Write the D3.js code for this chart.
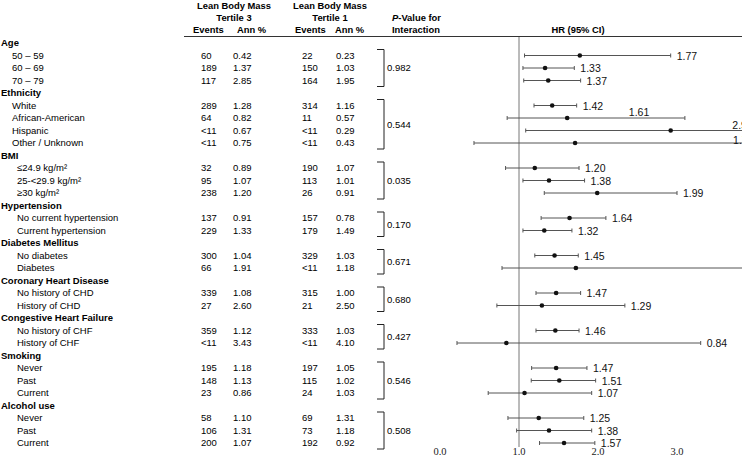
<!DOCTYPE html>
<html><head><meta charset="utf-8">
<script src="https://cdn.jsdelivr.net/npm/d3@7"></script>
<style>body{margin:0;background:#fff} svg{display:block}</style>
</head><body><svg id="c" width="742" height="456"></svg>
<script>
const groups = ["Age","Ethnicity","BMI","Hypertension","Diabetes Mellitus","Coronary Heart Disease","Congestive Heart Failure","Smoking","Alcohol use"];
const subgroups = [
  ["50 – 59","60 – 69","70 – 79"],
  ["White","African-American","Hispanic","Other / Unknown"],
  ["≤24.9 kg/m²","25-<29.9 kg/m²","≥30 kg/m²"],
  ["No current hypertension","Current hypertension"],
  ["No diabetes","Diabetes"],
  ["No history of CHD","History of CHD"],
  ["No history of CHF","History of CHF"],
  ["Never","Past","Current"],
  ["Never","Past","Current"]
];
const pValues = ["0.982","0.544","0.035","0.170","0.671","0.680","0.427","0.546","0.508"];
const t3Events = ["60","189","117","289","64","<11","<11","32","95","238","137","229","300","66","339","27","359","<11","195","148","23","58","106","200"];
const t3Ann = ["0.42","1.37","2.85","1.28","0.82","0.67","0.75","0.89","1.07","1.20","0.91","1.33","1.04","1.91","1.08","2.60","1.12","3.43","1.18","1.13","0.86","1.10","1.31","1.07"];
const t1Events = ["22","150","164","314","11","<11","<11","190","113","26","157","179","329","<11","315","21","333","<11","197","115","24","69","73","192"];
const t1Ann = ["0.23","1.03","1.95","1.16","0.57","0.29","0.43","1.07","1.01","0.91","0.78","1.49","1.03","1.18","1.00","2.50","1.03","4.10","1.05","1.02","1.03","1.31","1.18","0.92"];
const hr = [1.77,1.33,1.37,1.42,1.61,2.92,1.71,1.20,1.38,1.99,1.64,1.32,1.45,1.72,1.47,1.29,1.46,0.84,1.47,1.51,1.07,1.25,1.38,1.57];
const hrLabels = ["1.77","1.33","1.37","1.42","1.61","2.92","1.71","1.20","1.38","1.99","1.64","1.32","1.45","1.72","1.47","1.29","1.46","0.84","1.47","1.51","1.07","1.25","1.38","1.57"];
const ciLow = [1.07,1.05,1.06,1.19,0.85,1.085,0.43,0.83,1.05,1.32,1.28,1.05,1.20,0.785,1.215,0.72,1.215,0.215,1.16,1.155,0.61,0.86,0.97,1.26];
const ciHigh = [2.92,1.70,1.78,1.73,3.10,4.80,4.50,1.76,1.83,3.00,2.10,1.67,1.75,4.20,1.78,2.34,1.76,3.30,1.86,1.97,1.92,1.82,1.92,1.96];
const xTicks = [0,1,2,3];

// label placement overrides (style, in HR units / px)
const labelOverride = {4:{at:2.39,dy:-6},5:{at:3.70,dy:-5},6:{at:3.71,dy:-3}};

const W = 742;
const svg = d3.select("#c");
const FONT = "'Liberation Sans', Arial, sans-serif";
const FS = 9.5;

// build rows
const rows = [];
let k = 0;
groups.forEach((g,gi)=>{
  rows.push({type:"h", label:g, gi});
  subgroups[gi].forEach(s=>{ rows.push({type:"s", label:s, gi, k}); k++; });
});
const y = d3.scalePoint().domain(d3.range(rows.length)).range([43,443]);
rows.forEach((r,i)=>r.y=y(i));
const x = d3.scaleLinear().domain([0,3]).range([440,677]);

// header
const hdr = svg.append("g").attr("font-family",FONT).attr("font-size",9.4).attr("font-weight","bold").attr("fill","#000");
[[234,"Lean Body Mass","Tertile 3"],[330,"Lean Body Mass","Tertile 1"]].forEach(([cx,a,b])=>{
  hdr.append("text").attr("x",cx).attr("y",9).attr("text-anchor","middle").text(a);
  hdr.append("text").attr("x",cx).attr("y",21).attr("text-anchor","middle").text(b);
});
[[193,"Events"],[237,"Ann %"],[295,"Events"],[335,"Ann %"]].forEach(([xx,t])=>{
  hdr.append("text").attr("x",xx).attr("y",33).text(t);
});
const pv = hdr.append("text").attr("x",392).attr("y",21);
pv.append("tspan").attr("font-style","italic").text("P");
pv.append("tspan").text("-Value for");
hdr.append("text").attr("x",392).attr("y",33).text("Interaction");
hdr.append("text").attr("x",578).attr("y",33).attr("text-anchor","middle").text("HR (95% CI)");
svg.append("line").attr("x1",184).attr("x2",W).attr("y1",36.5).attr("y2",36.5).attr("stroke","#333").attr("stroke-width",1);

// table
const tb = svg.append("g").attr("font-family",FONT).attr("font-size",FS).attr("fill","#000");
const smallIndent = new Set([0,1]);
rows.forEach(r=>{
  if(r.type==="h"){
    tb.append("text").attr("x",1).attr("y",r.y).attr("dy","0.35em").attr("font-weight","bold").text(r.label);
  } else {
    tb.append("text").attr("x",smallIndent.has(r.gi)?12:17).attr("y",r.y).attr("dy","0.35em").text(r.label);
    tb.append("text").attr("x",201).attr("y",r.y).attr("dy","0.35em").text(t3Events[r.k]);
    tb.append("text").attr("x",233).attr("y",r.y).attr("dy","0.35em").text(t3Ann[r.k]);
    tb.append("text").attr("x",302).attr("y",r.y).attr("dy","0.35em").text(t1Events[r.k]);
    tb.append("text").attr("x",336).attr("y",r.y).attr("dy","0.35em").text(t1Ann[r.k]);
  }
});

// brackets + p-values
groups.forEach((g,gi)=>{
  const sub = rows.filter(r=>r.type==="s" && r.gi===gi);
  const y0 = sub[0].y-6, y1 = sub[sub.length-1].y+6;
  svg.append("path").attr("d",`M377,${y0}H384V${y1}H377`).attr("fill","none").attr("stroke","#222").attr("stroke-width",1);
  tb.append("text").attr("x",387).attr("y",(y0+y1)/2).attr("dy","0.35em").text(pValues[gi]);
});

// forest
svg.append("line").attr("x1",x(1)).attr("x2",x(1)).attr("y1",37).attr("y2",447).attr("stroke","#777").attr("stroke-width",1);
const fp = svg.append("g");
rows.filter(r=>r.type==="s").forEach(r=>{
  const i=r.k, yy=r.y;
  const xl=x(ciLow[i]), xh=x(ciHigh[i]);
  fp.append("line").attr("x1",xl).attr("x2",xh).attr("y1",yy).attr("y2",yy).attr("stroke","#555").attr("stroke-width",1);
  [xl,xh].forEach(xx=>fp.append("line").attr("x1",xx).attr("x2",xx).attr("y1",yy-2).attr("y2",yy+2).attr("stroke","#555").attr("stroke-width",1));
  fp.append("circle").attr("cx",x(hr[i])).attr("cy",yy).attr("r",2.3).attr("fill","#111");
  const ov = labelOverride[i];
  const lx = ov ? x(ov.at) : xh+6;
  const dy = ov ? ov.dy : 0.5;
  if (lx < W) {
    fp.append("text").attr("x",lx).attr("y",yy+dy).attr("dy","0.35em").attr("font-family",FONT).attr("font-size",10.5).attr("fill","#111").text(hrLabels[i]);
  }
});

// axis tick labels
svg.append("g").selectAll("text").data(xTicks).join("text")
  .attr("x",d=>x(d)).attr("y",455).attr("text-anchor","middle")
  .attr("font-family","'Liberation Serif', 'Times New Roman', serif").attr("font-size",10.5)
  .attr("fill","#222").text(d=>d3.format(".1f")(d));
</script></body></html>
